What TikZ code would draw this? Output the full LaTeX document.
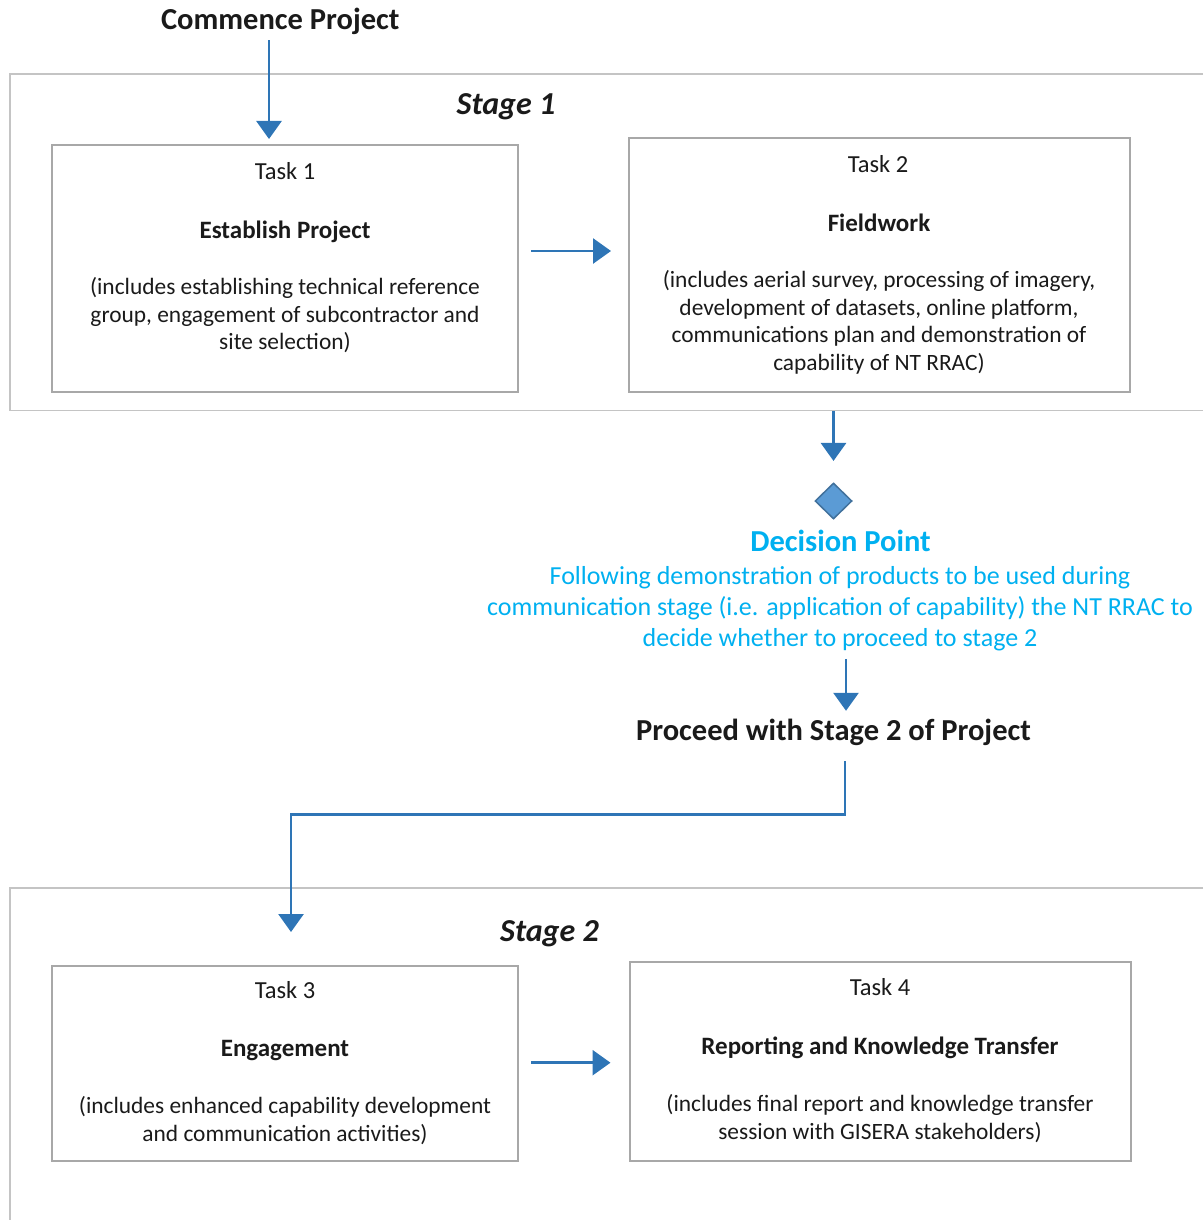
\documentclass[tikz,border=0pt]{standalone}
\usepackage{fontspec}
\setmainfont{Carlito}
\usetikzlibrary{arrows.meta,shapes.geometric}
\definecolor{arrowblue}{HTML}{2E75B6}
\definecolor{decisioncyan}{HTML}{00B0F0}
\definecolor{diamondfill}{HTML}{5B9BD5}
\definecolor{diamondline}{HTML}{41719C}
\definecolor{framegray}{HTML}{C4C4C4}
\definecolor{boxgray}{HTML}{A8A8A8}
\definecolor{textblack}{HTML}{1A1A1A}
\begin{document}
\begin{tikzpicture}[x=1pt,y=-1pt,
  arr/.style={draw=arrowblue, line width=2.8pt, -{Triangle[width=25pt,length=18pt]}},
  stageframe/.style={draw=framegray, line width=1.8pt},
  taskbox/.style={draw=boxgray, line width=2pt, rectangle, inner sep=0pt},
  txt/.style={inner sep=0pt, anchor=base, align=center, text=textblack},
  bigtitle/.style={txt, font=\fontsize{30.5pt}{36pt}\selectfont\bfseries},
  stagelabel/.style={txt, font=\fontsize{32pt}{38pt}\selectfont\bfseries\itshape},
  tasknum/.style={txt, font=\fontsize{24.5pt}{29pt}\selectfont},
  taskhead/.style={txt, font=\fontsize{25pt}{30pt}\selectfont\bfseries},
  taskdesc/.style={txt, font=\fontsize{23.4pt}{27.8pt}\selectfont},
  dectitle/.style={txt, text=decisioncyan, font=\fontsize{30.5pt}{36pt}\selectfont\bfseries},
  decdesc/.style={txt, text=decisioncyan, font=\fontsize{26pt}{31pt}\selectfont},
  decision/.style={diamond, fill=diamondfill, draw=diamondline, line width=1.5pt, minimum width=37pt, minimum height=36pt, inner sep=0pt}
]
\useasboundingbox (0,0) rectangle (1203,1220);

% stage frames
\draw[stageframe] (1203,74) -- (10,74) -- (10,410.5) -- (1203,410.5);
\draw[stageframe] (1203,888) -- (10,888) -- (10,1220);

% top (multi-line nodes: base anchor = baseline of the last line)
\node[bigtitle] (cp) at (280.3,29.3) {Commence Project};
\node[stagelabel] (s1) at (506,115) {Stage 1};

% task 1
\node[taskbox, minimum width=466pt, minimum height=247pt] (t1) at (285,268.5) {};
\node[tasknum] (t1n) at (285,179) {Task 1};
\node[taskhead] (t1h) at (285,238) {Establish Project};
\node[taskdesc] (t1d) at (285,349.9) {(includes establishing technical reference\\group, engagement of subcontractor and\\site selection)};

% task 2
\node[taskbox, minimum width=501pt, minimum height=253.5pt] (t2) at (879.5,264.75) {};
\node[tasknum] (t2n) at (878,172.3) {Task 2};
\node[taskhead] (t2h) at (879,231.7) {Fieldwork};
\node[taskdesc] (t2d) at (879,370.7) {(includes aerial survey, processing of imagery,\\development of datasets, online platform,\\communications plan and demonstration of\\capability of NT RRAC)};

% decision
\node[decision] (dp) at (833.5,501) {};
\node[dectitle] (dt) at (840.5,551.7) {Decision Point};
\node[decdesc] (dd) at (840,646.3) {Following demonstration of products to be used during\\communication stage (i.e. application of capability) the NT RRAC to\\decide whether to proceed to stage 2};
\node[bigtitle] (pr) at (833.5,740.7) {Proceed with Stage 2 of Project};

% stage 2
\node[stagelabel] (s2) at (549.5,941.7) {Stage 2};

% task 3
\node[taskbox, minimum width=466pt, minimum height=195pt] (t3) at (285,1063.5) {};
\node[tasknum] (t3n) at (285,998.3) {Task 3};
\node[taskhead] (t3h) at (285,1056.7) {Engagement};
\node[taskdesc] (t3d) at (285,1141.5) {(includes enhanced capability development\\and communication activities)};

% task 4
\node[taskbox, minimum width=501pt, minimum height=199pt] (t4) at (880.5,1061.5) {};
\node[tasknum] (t4n) at (880,995) {Task 4};
\node[taskhead] (t4h) at (880,1054.3) {Reporting and Knowledge Transfer};
\node[taskdesc] (t4d) at (880,1139) {(includes final report and knowledge transfer\\session with GISERA stakeholders)};

% connectors
\draw[arr, shorten <=5.5pt, shorten >=5pt] ([xshift=-11.3pt]cp.south) -- ([xshift=-16pt]t1.north);
\draw[arr] ([xshift=12pt,yshift=17.5pt]t1.east) -- ([xshift=-17pt,yshift=13.75pt]t2.west);
\draw[arr] ([xshift=-46pt,yshift=-18.5pt]t2.south) -- ([yshift=21.3pt]dp.north);
\draw[arr, shorten <=8pt, shorten >=8.3pt] ([xshift=6pt]dd.south) -- ([xshift=12.5pt]pr.north);
\draw[arr] ([xshift=11.5pt,yshift=-15.3pt]pr.south) -- ++(0,53) -| ([xshift=6pt,yshift=33pt]t3.north);
\draw[arr] ([xshift=12pt,yshift=0.8pt]t3.east) -- ([xshift=-18.5pt,yshift=-1.2pt]t4.west);
\end{tikzpicture}
\end{document}
